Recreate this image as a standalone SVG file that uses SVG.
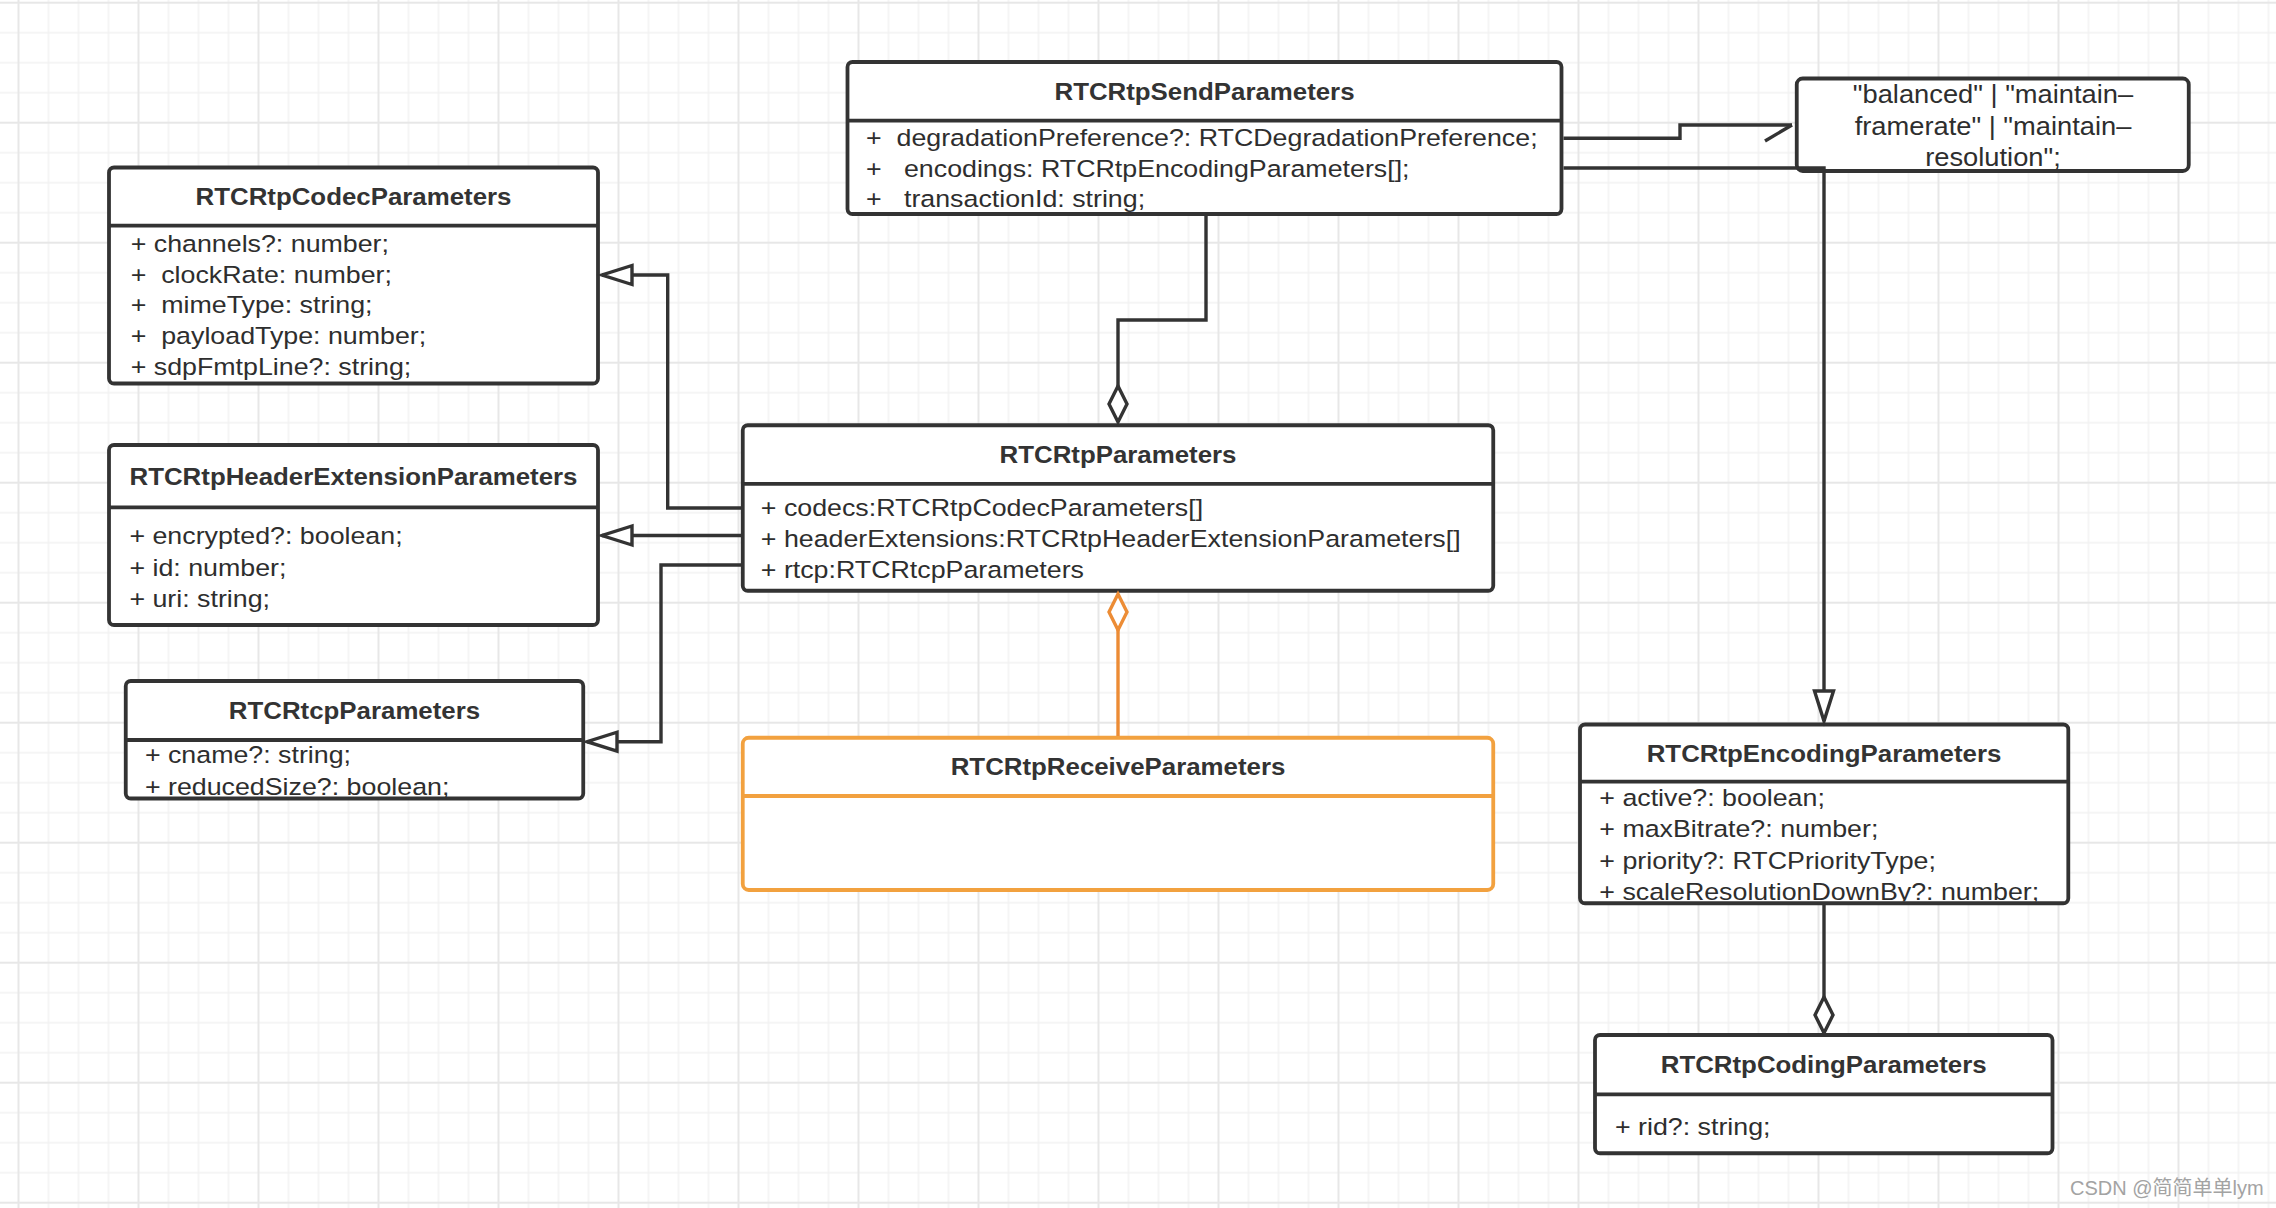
<svg xmlns="http://www.w3.org/2000/svg" width="2276" height="1208" viewBox="0 0 2276 1208">
<style>
.t{font-family:"Liberation Sans",Arial,sans-serif;font-size:23.5px;fill:#2e2e2e;white-space:pre}
.h{font-family:"Liberation Sans",Arial,sans-serif;font-size:24.5px;font-weight:bold;fill:#333;text-anchor:middle}
.n{font-family:"Liberation Sans",Arial,sans-serif;font-size:26px;fill:#2e2e2e;text-anchor:middle}
.box{fill:#fff;stroke:#333;stroke-width:3.8}
.obox{fill:#fff;stroke:#F2A13F;stroke-width:3.8}
.dv{stroke:#333;stroke-width:3.8}
.odv{stroke:#F2A13F;stroke-width:3.8}
.c{fill:none;stroke:#333;stroke-width:3.4}
.oc{fill:none;stroke:#EC8C35;stroke-width:3.4}
.wm{font-family:"Liberation Sans","Noto Sans CJK SC",sans-serif;font-size:20px;fill:#a3a3a3}
</style>
<defs>
<pattern id="grid" patternUnits="userSpaceOnUse" x="3.5" y="-12.3" width="120" height="120">
<rect width="120" height="120" fill="#fff"/>
<path d="M45,0V120M75,0V120M105,0V120M0,45H120M0,75H120M0,105H120" stroke="#f2f2f2" stroke-width="1.5"/>
<path d="M15,0V120M0,15H120" stroke="#e7e7e7" stroke-width="2"/>
</pattern>
<marker id="tri" markerUnits="userSpaceOnUse" markerWidth="40" markerHeight="30" refX="30" refY="9.5" orient="auto" overflow="visible">
<path d="M0,0L30,9.5L0,19Z" fill="#fff" stroke="#333" stroke-width="3.4" stroke-linejoin="miter"/>
</marker>
<marker id="dia" markerUnits="userSpaceOnUse" markerWidth="40" markerHeight="30" refX="36" refY="9" orient="auto" overflow="visible">
<path d="M0,9L18,0L36,9L18,18Z" fill="#fff" stroke="#333" stroke-width="3.4"/>
</marker>
<marker id="odia" markerUnits="userSpaceOnUse" markerWidth="40" markerHeight="30" refX="36" refY="9" orient="auto" overflow="visible">
<path d="M0,9L18,0L36,9L18,18Z" fill="#fff" stroke="#EC8C35" stroke-width="3.4"/>
</marker>
<marker id="harp" markerUnits="userSpaceOnUse" markerWidth="40" markerHeight="30" refX="27" refY="0" orient="auto" overflow="visible">
<path d="M27,0L0,16" fill="none" stroke="#333" stroke-width="3.4"/>
</marker>
<clipPath id="cSend"><rect x="849" y="63.5" width="711" height="149"/></clipPath>
<clipPath id="cCodec"><rect x="111" y="169" width="486" height="213"/></clipPath>
<clipPath id="cRtcp"><rect x="127.5" y="682.5" width="454" height="114.5"/></clipPath>
<clipPath id="cEnc"><rect x="1581.8" y="726" width="485" height="175.5"/></clipPath>
</defs>
<rect width="2276" height="1208" fill="url(#grid)"/>

<g id="RTCRtpSendParameters">
<rect class="box" x="847.5" y="62" width="714" height="152" rx="5"/>
<line class="dv" x1="847.5" y1="120.7" x2="1561.5" y2="120.7"/>
<text class="h" transform="translate(1204.5 100) scale(1.055 1)">RTCRtpSendParameters</text>
<g clip-path="url(#cSend)">
<text class="t" transform="translate(866 146) scale(1.14 1)">+  degradationPreference?: RTCDegradationPreference;</text>
<text class="t" transform="translate(866 176.5) scale(1.14 1)">+   encodings: RTCRtpEncodingParameters[];</text>
<text class="t" transform="translate(866 207) scale(1.14 1)">+   transactionId: string;</text>
</g>
</g>

<g id="degradationPreference">
<rect class="box" x="1796.75" y="78.5" width="392" height="92.5" rx="6"/>
<text class="n" transform="translate(1993 103.3) scale(1.05 1)">"balanced" | "maintain–</text>
<text class="n" transform="translate(1993 135) scale(1.05 1)">framerate" | "maintain–</text>
<text class="n" transform="translate(1993 166.3) scale(1.05 1)">resolution";</text>
</g>

<g id="RTCRtpCodecParameters">
<rect class="box" x="109" y="167.5" width="489" height="216" rx="5"/>
<line class="dv" x1="109" y1="225.7" x2="598" y2="225.7"/>
<text class="h" transform="translate(353.5 205) scale(1.055 1)">RTCRtpCodecParameters</text>
<g clip-path="url(#cCodec)">
<text class="t" transform="translate(130.7 252) scale(1.14 1)">+ channels?: number;</text>
<text class="t" transform="translate(130.7 282.5) scale(1.14 1)">+  clockRate: number;</text>
<text class="t" transform="translate(130.7 313) scale(1.14 1)">+  mimeType: string;</text>
<text class="t" transform="translate(130.7 343.5) scale(1.14 1)">+  payloadType: number;</text>
<text class="t" transform="translate(130.7 375) scale(1.14 1)">+ sdpFmtpLine?: string;</text>
</g>
</g>

<g id="RTCRtpHeaderExtensionParameters">
<rect class="box" x="109" y="445" width="489" height="180" rx="5"/>
<line class="dv" x1="109" y1="507.3" x2="598" y2="507.3"/>
<text class="h" transform="translate(353.5 484.5) scale(1.055 1)">RTCRtpHeaderExtensionParameters</text>
<text class="t" transform="translate(129.4 544) scale(1.14 1)">+ encrypted?: boolean;</text>
<text class="t" transform="translate(129.4 575.5) scale(1.14 1)">+ id: number;</text>
<text class="t" transform="translate(129.4 607) scale(1.14 1)">+ uri: string;</text>
</g>

<g id="RTCRtcpParameters">
<rect class="box" x="125.75" y="681" width="457.5" height="117.5" rx="5"/>
<line class="dv" x1="125.75" y1="740" x2="583.25" y2="740"/>
<text class="h" transform="translate(354.5 719) scale(1.055 1)">RTCRtcpParameters</text>
<g clip-path="url(#cRtcp)">
<text class="t" transform="translate(144.9 763) scale(1.14 1)">+ cname?: string;</text>
<text class="t" transform="translate(144.9 795) scale(1.14 1)">+ reducedSize?: boolean;</text>
</g>
</g>

<g id="RTCRtpParameters">
<rect class="box" x="742.75" y="425.25" width="750.5" height="165.5" rx="5"/>
<line class="dv" x1="742.75" y1="483.8" x2="1493.25" y2="483.8"/>
<text class="h" transform="translate(1118 463) scale(1.055 1)">RTCRtpParameters</text>
<text class="t" transform="translate(760.8 516) scale(1.14 1)">+ codecs:RTCRtpCodecParameters[]</text>
<text class="t" transform="translate(760.8 547) scale(1.14 1)">+ headerExtensions:RTCRtpHeaderExtensionParameters[]</text>
<text class="t" transform="translate(760.8 578) scale(1.14 1)">+ rtcp:RTCRtcpParameters</text>
</g>

<g id="RTCRtpReceiveParameters">
<rect class="obox" x="742.75" y="737.75" width="750.5" height="152.25" rx="6"/>
<line class="odv" x1="742.75" y1="796" x2="1493.25" y2="796"/>
<text class="h" transform="translate(1118 775) scale(1.055 1)">RTCRtpReceiveParameters</text>
</g>

<g id="RTCRtpEncodingParameters">
<rect class="box" x="1580" y="724.5" width="488.3" height="178.75" rx="5"/>
<line class="dv" x1="1580" y1="781.7" x2="2068.3" y2="781.7"/>
<text class="h" transform="translate(1824 762) scale(1.055 1)">RTCRtpEncodingParameters</text>
<g clip-path="url(#cEnc)">
<text class="t" transform="translate(1599.3 806) scale(1.14 1)">+ active?: boolean;</text>
<text class="t" transform="translate(1599.3 837) scale(1.14 1)">+ maxBitrate?: number;</text>
<text class="t" transform="translate(1599.3 868.5) scale(1.14 1)">+ priority?: RTCPriorityType;</text>
<text class="t" transform="translate(1599.3 900) scale(1.14 1)">+ scaleResolutionDownBy?: number;</text>
</g>
</g>

<g id="RTCRtpCodingParameters">
<rect class="box" x="1595" y="1035" width="457.5" height="118.25" rx="5"/>
<line class="dv" x1="1595" y1="1094.3" x2="2052.5" y2="1094.3"/>
<text class="h" transform="translate(1823.7 1073) scale(1.055 1)">RTCRtpCodingParameters</text>
<text class="t" transform="translate(1615 1135) scale(1.14 1)">+ rid?: string;</text>
</g>

<g id="connectors">
<path class="c" d="M1206,216V320H1118V422" marker-end="url(#dia)"/>
<path class="c" d="M1563.5,138.3H1680V125H1792" marker-end="url(#harp)"/>
<path class="c" d="M1563.5,168H1824V721" marker-end="url(#tri)"/>
<path class="c" d="M1824,905V1033" marker-end="url(#dia)"/>
<path class="c" d="M741,508H667.7V275H602" marker-end="url(#tri)"/>
<path class="c" d="M741,535.5H602" marker-end="url(#tri)"/>
<path class="c" d="M741,565H661V741.7H587" marker-end="url(#tri)"/>
<path class="oc" d="M1118,736V594" marker-end="url(#odia)"/>
</g>

<text class="wm" x="2070" y="1195">CSDN @简简单单lym</text>
</svg>
